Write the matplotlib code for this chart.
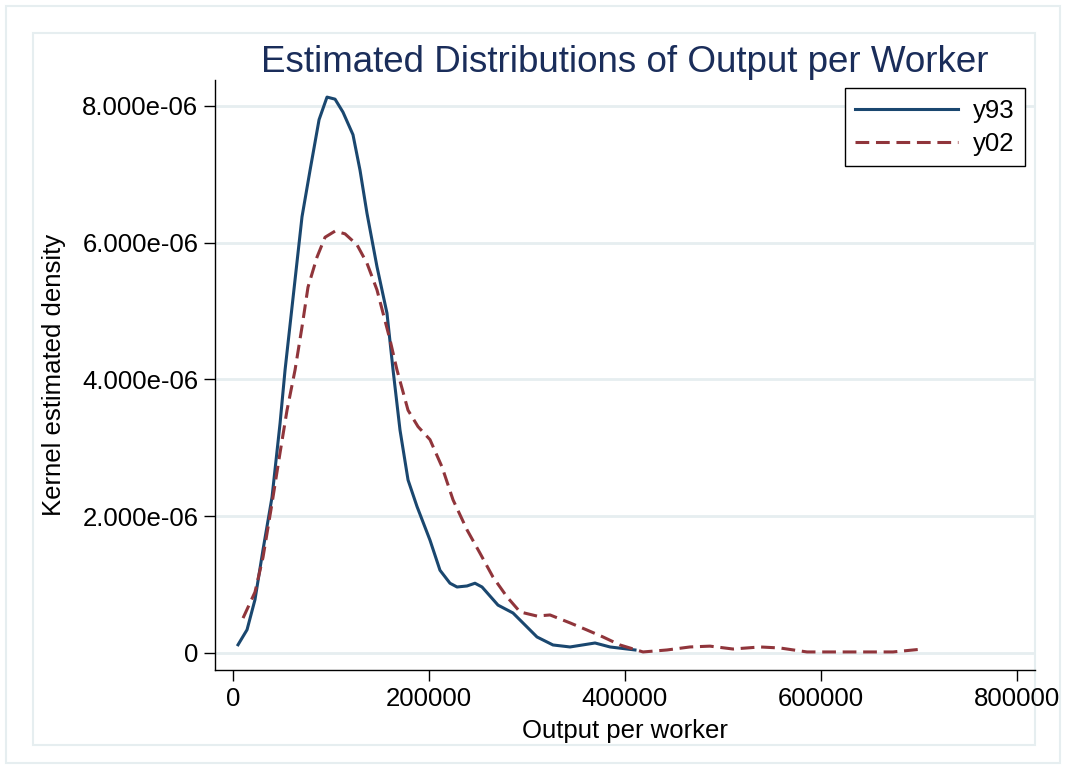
"""kernel density plot: output per worker, 1993 vs 2002."""
import matplotlib
matplotlib.use('Agg')
import matplotlib.pyplot as plt
from matplotlib.patches import Rectangle
from matplotlib.ticker import FuncFormatter

# kernel density estimates (density in units of 1e-6)
x93 = [5100, 14300, 22400, 30600, 39800, 48000, 53100, 70400, 78600, 87800,
       95900, 104100, 112200, 122400, 129600, 136700, 146900, 157100, 163300, 170400,
       178600, 187800, 201000, 211200, 221400, 228600, 238800, 246900, 254100, 270400,
       285700, 310200, 326500, 343900, 369400, 384700, 410200]
y93 = [0.12, 0.34, 0.78, 1.51, 2.28, 3.36, 4.14, 6.38, 7.06, 7.80,
       8.13, 8.10, 7.91, 7.58, 7.06, 6.43, 5.65, 4.97, 4.14, 3.26,
       2.53, 2.14, 1.65, 1.21, 1.02, 0.965, 0.98, 1.02, 0.965, 0.70,
       0.585, 0.234, 0.117, 0.088, 0.146, 0.088, 0.044]

x02 = [10200, 22400, 30600, 39800, 48000, 55100, 63300, 70400, 76500, 85700,
       93900, 104100, 114300, 126500, 136700, 146900, 153100, 160200, 167300, 178600,
       188800, 201000, 213300, 224500, 238800, 252000, 265300, 279600, 292900, 310200,
       323500, 343900, 361200, 377600, 394900, 418400, 442900, 466300, 486700, 510200,
       537800, 558200, 585700, 612200, 646900, 673500, 704100]
y02 = [0.51, 0.89, 1.40, 2.19, 2.93, 3.55, 4.14, 4.77, 5.35, 5.79,
       6.08, 6.17, 6.13, 5.97, 5.70, 5.31, 4.97, 4.58, 4.14, 3.55,
       3.31, 3.12, 2.72, 2.24, 1.80, 1.46, 1.11, 0.82, 0.60, 0.54,
       0.556, 0.44, 0.336, 0.234, 0.117, 0.015, 0.044, 0.088, 0.10, 0.058,
       0.088, 0.073, 0.015, 0.015, 0.015, 0.015, 0.058]

xticks = [0, 200000, 400000, 600000, 800000]
yticks = [0, 2e-6, 4e-6, 6e-6, 8e-6]

BLUE = '#1a476f'
RED = '#90353b'
FRAME = '#e6eef0'
FS = 18.5

plt.rcParams['font.family'] = ['Liberation Sans', 'DejaVu Sans']

fig = plt.figure(figsize=(10.65, 7.69), dpi=100)
W, H = 1065, 769

# graph region + plot region outlines
fig.patches.append(Rectangle((6 / W, 1 - 763 / H), 1054 / W, 757 / H,
                             transform=fig.transFigure, facecolor='none',
                             edgecolor=FRAME, linewidth=1.5, zorder=-1))
fig.patches.append(Rectangle((33 / W, 1 - 745 / H), 1002 / W, 712 / H,
                             transform=fig.transFigure, facecolor='none',
                             edgecolor=FRAME, linewidth=1.5, zorder=-1))

ax = fig.add_axes([215 / W, 1 - 670 / H, 820 / W, 590 / H])
ax.set_facecolor('none')

ax.plot(x93, [v * 1e-6 for v in y93], color=BLUE, lw=2.2, label='y93',
        solid_joinstyle='round', zorder=3)
ax.plot(x02, [v * 1e-6 for v in y02], color=RED, lw=2.2, label='y02',
        dashes=(4.5, 2.2), zorder=3)

ax.set_xlim(-18400, 818400)
ax.set_ylim(-0.249e-6, 8.38e-6)
ax.set_xticks(xticks)
ax.set_yticks(yticks)
ax.xaxis.set_major_formatter(FuncFormatter(lambda v, p: f"{v:.0f}"))
ax.yaxis.set_major_formatter(FuncFormatter(lambda v, p: "0" if v == 0 else f"{v:.3e}"))
ax.tick_params(labelsize=FS, length=8, width=1, pad=4, direction='out')

ax.yaxis.grid(True, color=FRAME, linewidth=2)
ax.set_axisbelow(True)
for side in ('top', 'right'):
    ax.spines[side].set_visible(False)
for side in ('left', 'bottom'):
    ax.spines[side].set_linewidth(1)

ax.set_xlabel('Output per worker', fontsize=FS, labelpad=6)
ax.set_ylabel('Kernel estimated density', fontsize=FS, labelpad=12)
ax.set_title('Estimated Distributions of Output per Worker', fontsize=26.5,
             color='#1a2d5a', pad=5)

leg = ax.legend(loc='upper right', bbox_to_anchor=(0.988, 0.986), borderaxespad=0,
                fontsize=FS, fancybox=False, edgecolor='black', framealpha=1,
                handlelength=4, handletextpad=0.6, borderpad=0.4, labelspacing=0.35)
leg.get_frame().set_linewidth(1)

fig.savefig('out.png', dpi=100)
